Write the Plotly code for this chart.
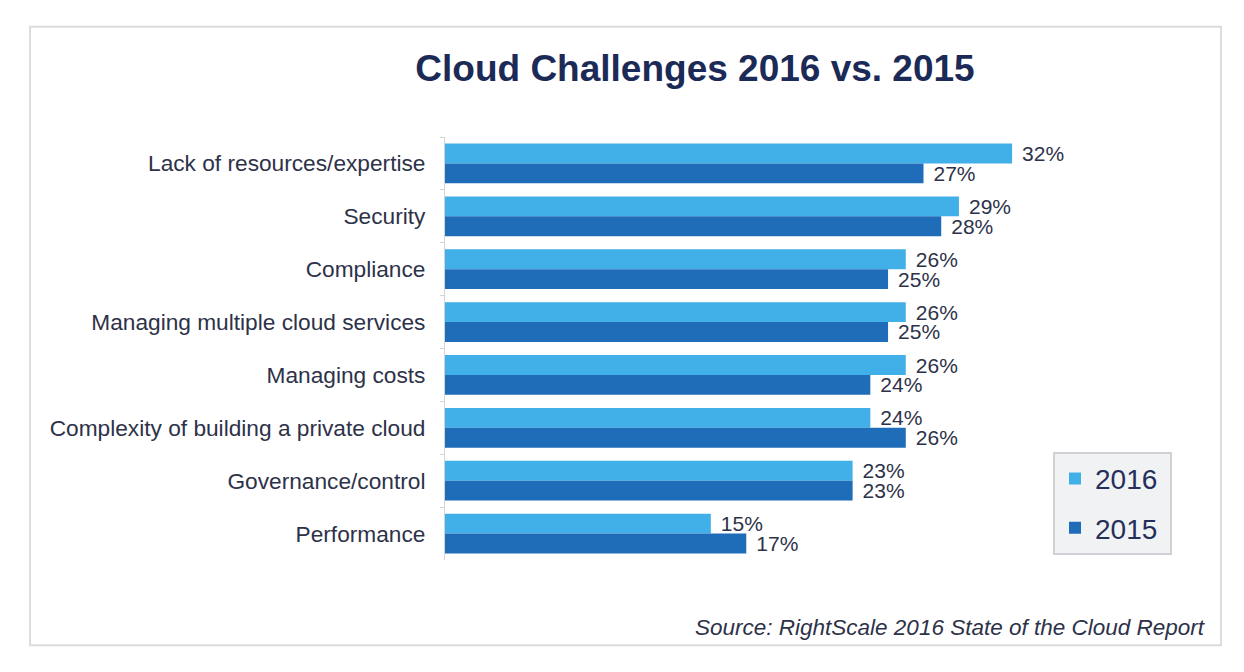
import plotly.graph_objects as go

categories = [
    "Lack of resources/expertise",
    "Security",
    "Compliance",
    "Managing multiple cloud services",
    "Managing costs",
    "Complexity of building a private cloud",
    "Governance/control",
    "Performance",
]
values_2016 = [32, 29, 26, 26, 26, 24, 23, 15]
values_2015 = [27, 28, 25, 25, 24, 26, 23, 17]
series_names = ["2016", "2015"]

W, H = 1244, 672
OFF = 8  # page body margin
# target page-pixel positions of the plot area
L, R, T, B = 445, 1083, 136.5, 560.5
XMAX = 36


def px_x(x):
    return (x - L) / (R - L)


def px_y(y):
    return (B - y) / (B - T)


TEXT = "#2d3249"
C2016 = "#42b0e8"
C2015 = "#1f6db8"
FONT = "Liberation Sans, Arial, sans-serif"

fig = go.Figure()
for name, vals, col in [(series_names[0], values_2016, C2016), (series_names[1], values_2015, C2015)]:
    fig.add_trace(go.Bar(
        name=name + "\u2005",
        legendgroup=name,
        y=categories,
        x=vals,
        orientation="h",
        marker=dict(color=col, line=dict(width=0)),
        texttemplate="\u2004%{x}%",
        textposition="outside",
        constraintext="none",
        cliponaxis=False,
        textfont=dict(family=FONT, size=21, color=TEXT),
        hoverinfo="skip",
    ))

fig.update_layout(
    width=W,
    height=H,
    margin=dict(l=L - OFF, r=W - (R - OFF), t=T - OFF, b=H - (B - OFF), pad=0),
    paper_bgcolor="white",
    plot_bgcolor="white",
    barmode="group",
    bargap=0.25,
    bargroupgap=0,
    font=dict(family=FONT, color=TEXT),
    title=dict(
        text="<b>Cloud Challenges 2016 vs. 2015</b>",
        x=(695 - OFF) / W,
        xref="container",
        xanchor="center",
        y=1 - (68 - OFF) / H,
        yref="container",
        yanchor="middle",
        font=dict(family=FONT, size=37, color="#1c2a57"),
    ),
    legend=dict(
        x=px_x(1053),
        y=px_y(452),
        xanchor="left",
        yanchor="top",
        bgcolor="#f1f2f4",
        bordercolor="#cfd1d4",
        borderwidth=2,
        font=dict(family=FONT, size=28, color="#24305a"),
        tracegroupgap=10,
        traceorder="grouped",
    ),
    showlegend=True,
    xaxis=dict(
        range=[0, XMAX],
        showticklabels=False,
        showgrid=False,
        zeroline=False,
        showline=False,
        fixedrange=True,
    ),
    yaxis=dict(
        type="category",
        categoryorder="array",
        categoryarray=categories,
        autorange="reversed",
        showline=True,
        linecolor="#d4d4d4",
        linewidth=1,
        ticks="outside",
        tickson="boundaries",
        ticklen=4,
        tickcolor="#d4d4d4",
        ticklabelstandoff=14,
        tickfont=dict(family=FONT, size=22.7, color=TEXT),
        showgrid=False,
        zeroline=False,
        fixedrange=True,
    ),
)

fig.add_annotation(
    text="<i>Source: RightScale 2016 State of the Cloud Report</i>",
    xref="paper", yref="paper",
    x=px_x(1208), y=px_y(628),
    xanchor="right", yanchor="middle",
    showarrow=False,
    font=dict(family=FONT, size=22.5, color=TEXT),
)

fig.add_shape(
    type="rect",
    xref="paper", yref="paper",
    x0=px_x(30), x1=px_x(1221), y0=px_y(646), y1=px_y(26),
    line=dict(color="#dcdcdc", width=2),
    fillcolor="rgba(0,0,0,0)",
    layer="below",
)

fig.write_html("out.html")
